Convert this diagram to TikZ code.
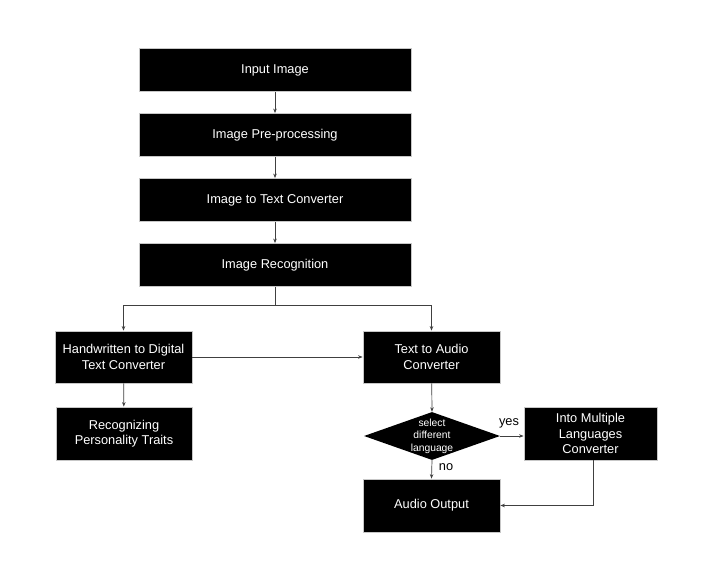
\documentclass[tikz,border=0pt]{standalone}
\usepackage{fontspec}
\setmainfont{Liberation Sans}
\usetikzlibrary{shapes.geometric,arrows.meta}
\begin{document}
\begin{tikzpicture}[x=1pt,y=-1pt,
  box/.style={draw=black!22, line width=0.8pt, fill=black, text=white,
    font=\fontsize{12.8}{15.3}\selectfont, align=center, inner sep=0pt},
  dec/.style={diamond, draw=none, fill=black, inner sep=0pt,
    minimum width=136pt, minimum height=48pt},
  dectext/.style={text=white, font=\fontsize{10.3}{12.5}\selectfont, align=center, inner sep=0pt},
  conn/.style={draw=black!75, line width=0.7pt, -{Stealth[length=4.5pt,width=3.5pt]}},
  plain/.style={draw=black!75, line width=0.7pt},
  lbl/.style={font=\fontsize{12.8}{15}\selectfont, inner sep=0pt}]
\fill[white] (0,0) rectangle (721,575);
\useasboundingbox (0,0) rectangle (721,575);

\node[box, minimum width=272pt, minimum height=43pt] (in)  at (275,70)  {Input Image};
\node[box, minimum width=272pt, minimum height=43pt] (pre) at (275,135) {Image Pre-processing};
\node[box, minimum width=272pt, minimum height=43pt] (itt) at (275,200) {Image to Text Converter};
\node[box, minimum width=272pt, minimum height=43pt] (rec) at (275,265) {Image Recognition};

\node[box, minimum width=137pt, minimum height=52pt] (hw)   at (123.5,357) {Handwritten to Digital\\Text Converter};
\node[box, minimum width=136pt, minimum height=53pt] (pers) at (124,433.5) {Recognizing\\Personality Traits};
\node[box, minimum width=137pt, minimum height=52pt] (tta)  at (431.5,357) {Text to Audio\\Converter};
\node[dec] (dia) at (432,436) {};
\node[dectext] (diat) at (dia.center) {select\\different\\language};
\node[box, minimum width=133pt, minimum height=53pt] (iml)  at (590.5,433.5) {Into Multiple\\Languages\\Converter};
\node[box, minimum width=137pt, minimum height=53pt] (out)  at (431.5,505.5) {Audio Output};

\coordinate (br) at (275,305);

\draw[conn] (in) -- (pre);
\draw[conn] (pre) -- (itt);
\draw[conn] (itt) -- (rec);
\draw[plain] (rec.south) -- (br);
\draw[conn] (br) -| (hw.north);
\draw[conn] (br) -| (tta.north);
\draw[conn] (hw.east) -- (tta.west);
\draw[conn] (hw) -- (pers);
\draw[conn] (tta) -- (dia.north);
\draw[conn] (dia.east) -- (dia.east -| iml.west);
\draw[conn] (dia.south) -- (out.north);
\draw[conn] ([xshift=2.5pt]iml.south) |- (out.east);

\node[lbl] (yes) at (509,423) {yes};
\node[lbl] (no)  at (446,467) {no};
\end{tikzpicture}
\end{document}
